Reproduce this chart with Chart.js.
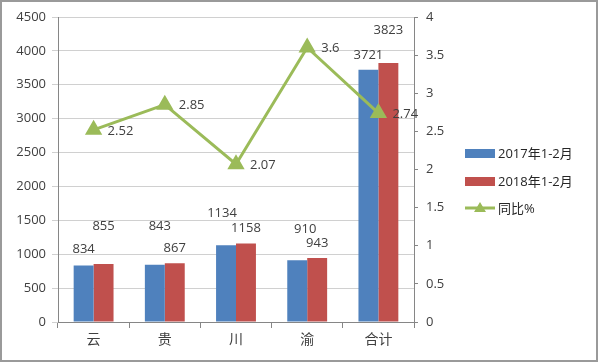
<!DOCTYPE html>
<html>
<head>
<meta charset="utf-8">
<script src="https://cdn.jsdelivr.net/npm/chart.js@4"></script>
<style>
  body { margin: 0; background: #fff; }
</style>
</head>
<body>
<canvas id="grafico" width="600" height="363"></canvas>
<script>
// datos
const categorias = ['云', '贵', '川', '渝', '合计']
const nombres = ['2017年1-2月', '2018年1-2月', '同比%']
const valores2017 = [834, 843, 1134, 910, 3721]
const valores2018 = [855, 867, 1158, 943, 3823]
const tongbi = [2.52, 2.85, 2.07, 3.6, 2.74]
const ejeIzq = { max: 4500, paso: 500 }
const ejeDer = { max: 4, paso: 0.5 }

const azul = '#4F81BD'
const rojo = '#C0504D'
const verde = '#9BBB59'
const fuente = "'Open Sans', 'Noto Sans CJK SC', sans-serif"
const colorTexto = '#404040'
const colorEje = '#868686'

// desplazamiento de etiquetas (como las dejó Excel)
const alzaAzul = [16, 39, 32, 31, 15]
const dxAzul = [0, 5, -4, 8, 0]
const alzaRoja = [38, 15, 15, 15, 33]

const fondo = {
    id: 'fondo',
    beforeDraw(chart) {
        const ctx = chart.ctx
        ctx.save()
        ctx.fillStyle = '#fff'
        ctx.fillRect(0, 0, chart.width, chart.height)
        ctx.strokeStyle = '#9a9a9a'
        ctx.lineWidth = 2
        ctx.strokeRect(1, 1, 596, 360)
        ctx.restore()
    }
}

const etiquetas = {
    id: 'etiquetas',
    afterDatasetsDraw(chart) {
        const ctx = chart.ctx
        ctx.save()
        ctx.font = '13px ' + fuente
        ctx.fillStyle = colorTexto
        ctx.textBaseline = 'middle'
        ctx.textAlign = 'center'
        chart.getDatasetMeta(0).data.forEach((bar, i) => {
            ctx.fillText(valores2017[i], bar.x + dxAzul[i], bar.y - alzaAzul[i])
        })
        chart.getDatasetMeta(1).data.forEach((bar, i) => {
            ctx.fillText(valores2018[i], bar.x, bar.y - alzaRoja[i])
        })
        ctx.textAlign = 'left'
        chart.getDatasetMeta(2).data.forEach((pt, i) => {
            ctx.fillText(tongbi[i], pt.x + 14, pt.y + 1)
        })
        ctx.restore()
    }
}

const leyenda = {
    id: 'leyenda',
    afterDraw(chart) {
        const ctx = chart.ctx
        const x = 465
        const ys = [153, 181, 208]
        ctx.save()
        ctx.font = '13px ' + fuente
        ctx.textBaseline = 'middle'
        ctx.fillStyle = azul
        ctx.fillRect(x, ys[0] - 4, 30, 9)
        ctx.fillStyle = rojo
        ctx.fillRect(x, ys[1] - 4, 30, 9)
        ctx.strokeStyle = verde
        ctx.lineWidth = 3
        ctx.beginPath()
        ctx.moveTo(x, ys[2])
        ctx.lineTo(x + 30, ys[2])
        ctx.stroke()
        ctx.fillStyle = verde
        ctx.beginPath()
        ctx.moveTo(x + 15, ys[2] - 6)
        ctx.lineTo(x + 21, ys[2] + 4)
        ctx.lineTo(x + 9, ys[2] + 4)
        ctx.closePath()
        ctx.fill()
        ctx.fillStyle = '#262626'
        nombres.forEach((n, i) => ctx.fillText(n, x + 33, ys[i] + 1))
        ctx.restore()
    }
}

const config = {
    data: {
        labels: categorias,
        datasets: [
            { type: 'bar', label: nombres[0], data: valores2017, backgroundColor: azul, yAxisID: 'y', order: 2,
              categoryPercentage: 0.56, barPercentage: 1.0 },
            { type: 'bar', label: nombres[1], data: valores2018, backgroundColor: rojo, yAxisID: 'y', order: 2,
              categoryPercentage: 0.56, barPercentage: 1.0 },
            { type: 'line', label: nombres[2], data: tongbi, borderColor: verde, backgroundColor: verde,
              borderWidth: 3, pointStyle: 'triangle', pointRadius: 7, pointHoverRadius: 7,
              yAxisID: 'y1', order: 0, tension: 0 }
        ]
    },
    options: {
        responsive: false,
        animation: false,
        devicePixelRatio: 1,
        layout: { padding: { top: 17, right: 136, bottom: 0, left: 0 } },
        plugins: { legend: { display: false }, tooltip: { enabled: false } },
        scales: {
            x: {
                offset: true,
                grid: { display: true, offset: true, drawOnChartArea: false, drawTicks: true, tickLength: 6, color: colorEje },
                border: { color: colorEje },
                ticks: { color: colorTexto, font: { family: fuente, size: 14 }, padding: 4 },
                afterFit: (s) => { s.height = 41 }
            },
            y: {
                position: 'left',
                min: 0, max: ejeIzq.max,
                ticks: { stepSize: ejeIzq.paso, color: colorTexto, font: { family: fuente, size: 13 }, padding: 6,
                         callback: (v) => String(v) },
                grid: { color: '#d0d0d0', tickLength: 6 },
                border: { color: colorEje },
                afterFit: (s) => { s.width = 58 }
            },
            y1: {
                position: 'right',
                min: 0, max: ejeDer.max,
                ticks: { stepSize: ejeDer.paso, color: colorTexto, font: { family: fuente, size: 13 }, padding: 8,
                         callback: (v) => String(v) },
                grid: { drawOnChartArea: false, tickLength: 4, color: colorEje },
                border: { color: colorEje },
                afterFit: (s) => { s.width = 50 }
            }
        }
    },
    plugins: [fondo, etiquetas, leyenda]
}

window.myChart = new Chart(document.getElementById('grafico'), config)
</script>
</body>
</html>
